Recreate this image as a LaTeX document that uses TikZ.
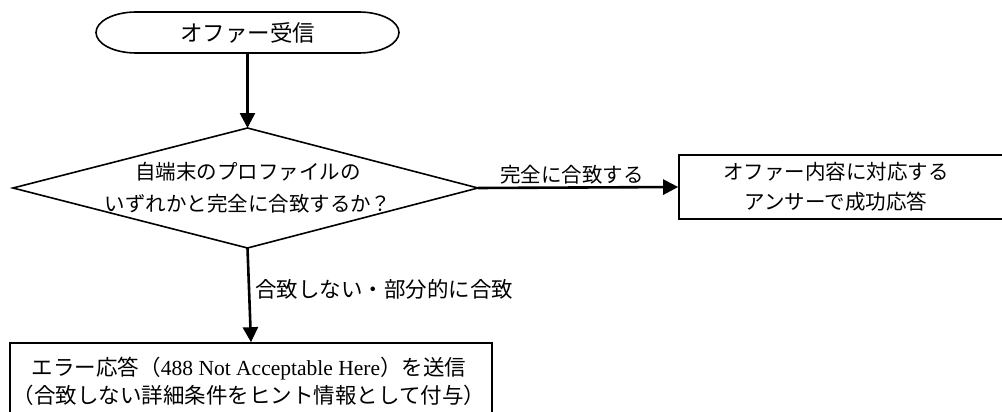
\documentclass[tikz,border=0pt]{standalone}
\usepackage{fontspec}
\setmainfont{Liberation Serif}
\newfontfamily\cjk{Noto Sans CJK JP}
\usetikzlibrary{arrows.meta}
\begin{document}
\begin{tikzpicture}[x=1pt,y=-1pt,
  outline/.style={draw, line width=1.6pt, line join=miter},
  conn/.style={line width=2.6pt, -{Triangle[length=15pt,width=15pt]}},
  txt/.style={inner sep=0pt, align=center, font=\fontsize{20.5}{#1}\selectfont\cjk},
  txt/.default=30,
  lbl/.style={inner sep=0pt, font=\fontsize{20.5}{24}\selectfont\cjk}]
\useasboundingbox (0,0) rectangle (1002,412);
\clip (0,0) rectangle (1002,412);
% start terminator
\node[txt, minimum width=304pt, minimum height=41pt, font=\fontsize{22.5}{26}\selectfont\cjk] (start) at (247.5,32.5) {オファー受信};
\draw[outline] (359,12) arc[start angle=-90, end angle=90, x radius=40, y radius=20.5]
  -- (136,53) arc[start angle=90, end angle=270, x radius=40, y radius=20.5] -- cycle;
% decision diamond
\coordinate (dtop) at (247.5,128);
\coordinate (dright) at (478,188);
\coordinate (dbot) at (247.5,248);
\coordinate (dleft) at (13,188);
\draw[outline] (dtop) -- (dright) -- (dbot) -- (dleft) -- cycle;
\node[txt=32] (dec) at (248,188) {自端末のプロファイルの\\いずれかと完全に合致するか？};
% success box
\node[outline, minimum width=330pt, minimum height=64pt, inner sep=0pt] (ok) at (844,187) {};
\node[txt=30] (oktxt) at (836,187) {オファー内容に対応する\\アンサーで成功応答};
% error box
\node[outline, minimum width=482pt, minimum height=77pt, inner sep=0pt] (err) at (251,381.5) {};
\node[inner sep=0pt, align=center, font=\fontsize{21.5}{28}\selectfont\cjk] (errtxt) at (249,381) {エラー応答（{\rmfamily 488 Not Acceptable Here}）を送信\\（合致しない詳細条件をヒント情報として付与）};
% connectors
\draw[conn] (start.south) -- (dtop);
\draw[conn] (dright) -- node[lbl, pos=0.47, yshift=13pt] {完全に合致する} (ok.west);
\draw[conn] (dbot) -- node[lbl, pos=0.44, anchor=west, xshift=5pt, font=\fontsize{21.5}{24}\selectfont\cjk] {合致しない・部分的に合致} (err.north);
\end{tikzpicture}
\end{document}
